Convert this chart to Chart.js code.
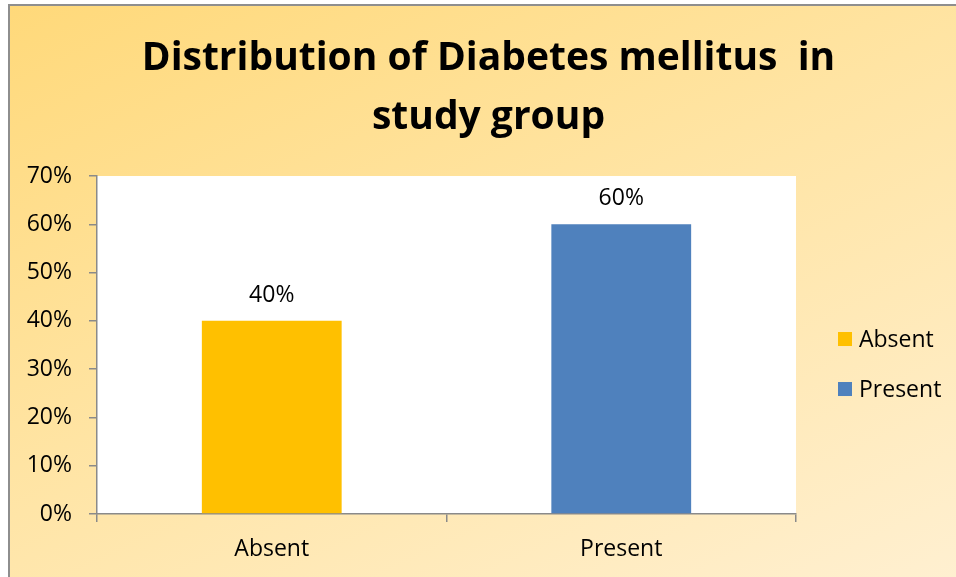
<!DOCTYPE html>
<html>
<head>
<meta charset="utf-8">
<script src="https://cdn.jsdelivr.net/npm/chart.js@4"></script>
<style>
  html, body { margin: 0; padding: 0; background: #ffffff; overflow: hidden; }
  #wrap { position: relative; width: 956px; height: 577px; }
  #frame {
    position: absolute; left: 8px; top: 4px; width: 960px; height: 590px;
    border: 2px solid #8e8e8e; box-sizing: border-box;
    background: linear-gradient(155deg, #ffd97a 0%, #ffe4a3 45%, #fff0d2 100%);
  }
  #c { position: absolute; left: 0; top: 0; }
</style>
</head>
<body>
<div id="wrap">
  <div id="frame"></div>
  <canvas id="c" width="956" height="577"></canvas>
</div>
<script>
const titleLines = ['Distribution of Diabetes mellitus  in', 'study group'];
const categories = ['Absent', 'Present'];
const values = [0.40, 0.60];
const barColors = ['#FFC000', '#4F81BD'];
const yTicks = [0, 0.1, 0.2, 0.3, 0.4, 0.5, 0.6, 0.7];

const FONT = '"Open Sans", Lato, sans-serif';

const plotBg = {
  id: 'plotBg',
  beforeDraw(chart) {
    const a = chart.chartArea, ctx = chart.ctx;
    ctx.save();
    ctx.fillStyle = '#ffffff';
    ctx.fillRect(a.left, a.top, a.right - a.left, a.bottom - a.top);
    ctx.restore();
  }
};

const barLabels = {
  id: 'barLabels',
  afterDatasetsDraw(chart) {
    const ctx = chart.ctx;
    const meta = chart.getDatasetMeta(0);
    ctx.save();
    ctx.font = '23px ' + FONT;
    ctx.fillStyle = '#000000';
    ctx.textAlign = 'center';
    ctx.textBaseline = 'alphabetic';
    meta.data.forEach((el, i) => {
      const v = chart.data.datasets[0].data[i];
      ctx.fillText(Math.round(v * 100) + '%', el.x, el.y - 19);
    });
    ctx.restore();
  }
};

// legend drawn from the chart's own labels and colours, placed to the right of the plot area
const sideLegend = {
  id: 'sideLegend',
  afterDraw(chart) {
    const ctx = chart.ctx, a = chart.chartArea;
    const ds = chart.data.datasets[0];
    const x0 = a.right + 42;
    const itemGap = 50;
    const firstTop = a.top + 156;
    ctx.save();
    ctx.font = '23px ' + FONT;
    ctx.textAlign = 'left';
    ctx.textBaseline = 'alphabetic';
    chart.data.labels.forEach((l, i) => {
      const y = firstTop + i * itemGap;
      ctx.fillStyle = ds.backgroundColor[i];
      ctx.fillRect(x0, y, 14, 14);
      ctx.fillStyle = '#000000';
      ctx.fillText(l, x0 + 21, y + 15);
    });
    ctx.restore();
  }
};

new Chart(document.getElementById('c'), {
  type: 'bar',
  data: {
    labels: categories,
    datasets: [{
      label: 'Diabetes mellitus',
      data: values,
      backgroundColor: barColors,
      borderWidth: 0,
      barPercentage: 0.4,
      categoryPercentage: 1.0
    }]
  },
  options: {
    responsive: false,
    animation: false,
    devicePixelRatio: 1,
    layout: { padding: { left: 21, right: 0, top: 29, bottom: 0 } },
    plugins: {
      title: {
        display: true,
        text: titleLines,
        color: '#000000',
        font: { family: FONT, size: 39, weight: 'bold', lineHeight: 1.513 },
        padding: { top: 0, bottom: 29 }
      },
      legend: { display: false },
      tooltip: { enabled: false }
    },
    scales: {
      x: {
        afterFit(axis) { axis.height = 63; },
        grid: { display: true, drawOnChartArea: false, offset: true, tickLength: 8, color: '#8a8a8a', lineWidth: 1.5 },
        border: { display: true, color: '#8a8a8a', width: 1.5 },
        ticks: { color: '#000000', font: { family: FONT, size: 23 }, padding: 14 }
      },
      y: {
        min: 0, max: 0.7,
        afterBuildTicks(axis) { axis.ticks = yTicks.map(v => ({ value: v })); },
        afterFit(axis) { axis.width = 76; },
        grid: { display: true, drawOnChartArea: false, tickLength: 8, color: '#8a8a8a', lineWidth: 1.5 },
        border: { display: true, color: '#8a8a8a', width: 1.5 },
        ticks: {
          color: '#000000', font: { family: FONT, size: 23 }, padding: 17,
          callback: v => Math.round(v * 100) + '%'
        }
      },
      legendSpace: {
        type: 'linear',
        position: 'right',
        display: true,
        afterFit(axis) { axis.width = 160; },
        grid: { display: false, drawOnChartArea: false },
        border: { display: false },
        ticks: { display: false }
      }
    }
  },
  plugins: [plotBg, barLabels, sideLegend]
});
</script>
</body>
</html>
